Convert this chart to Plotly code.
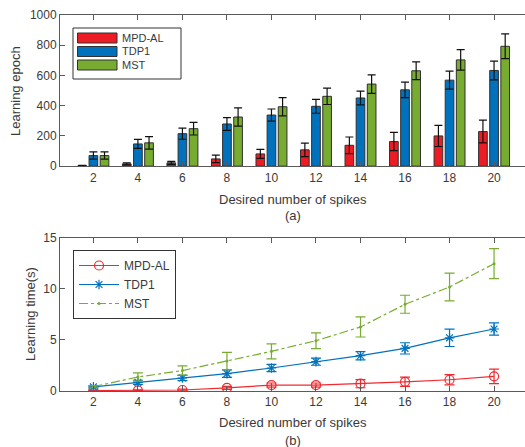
import plotly.graph_objects as go

# ---------------- data ----------------
spikes = [2, 4, 6, 8, 10, 12, 14, 16, 18, 20]
series_names = ["MPD-AL", "TDP1", "MST"]

epoch_mpd = [3, 15, 22, 48, 81, 108, 138, 163, 200, 229]
epoch_mpd_err = [3, 7, 10, 25, 30, 45, 55, 60, 70, 75]
epoch_tdp = [70, 147, 215, 279, 338, 396, 451, 505, 569, 633]
epoch_tdp_err = [24, 30, 37, 42, 40, 46, 46, 51, 60, 62]
epoch_mst = [70, 154, 248, 325, 393, 462, 543, 631, 703, 793]
epoch_mst_err = [24, 42, 42, 60, 60, 54, 61, 59, 68, 82]

time_mpd = [0.05, 0.07, 0.1, 0.3, 0.58, 0.58, 0.72, 0.9, 1.1, 1.43]
time_mpd_err = [0.05, 0.05, 0.08, 0.15, 0.2, 0.2, 0.4, 0.45, 0.5, 0.7]
time_tdp = [0.4, 0.85, 1.27, 1.7, 2.25, 2.87, 3.45, 4.17, 5.2, 6.06]
time_tdp_err = [0.1, 0.2, 0.25, 0.37, 0.35, 0.35, 0.4, 0.55, 0.85, 0.6]
time_mst = [0.42, 1.37, 2.0, 2.93, 3.88, 4.92, 6.26, 8.48, 10.17, 12.45]
time_mst_err = [0.1, 0.4, 0.45, 0.85, 0.73, 0.77, 0.98, 0.88, 1.35, 1.47]

x_ticks = [2, 4, 6, 8, 10, 12, 14, 16, 18, 20]
y1_ticks = [0, 200, 400, 600, 800, 1000]
y2_ticks = [0, 5, 10, 15]

# ---------------- style ----------------
RED = "#ED1C24"
RED_LINE = "#F2282E"
BLUE = "#0072BD"
GREEN = "#77AC30"
TXT = "#3a3a3a"
AX = "#5a5a5a"
FONT = "Liberation Sans, Arial, sans-serif"
BAR_COLORS = [RED, BLUE, GREEN]

fig = go.Figure()

bar_sets = [
    (epoch_mpd, epoch_mpd_err),
    (epoch_tdp, epoch_tdp_err),
    (epoch_mst, epoch_mst_err),
]
for name, (vals, errs), col in zip(series_names, bar_sets, BAR_COLORS):
    fig.add_trace(go.Bar(
        x=spikes, y=vals, name=name, marker=dict(color=col, line=dict(color="#303030", width=1)),
        error_y=dict(type="data", array=errs, visible=True, color="#111111", thickness=1.2, width=4),
        xaxis="x", yaxis="y", showlegend=False,
    ))

line_sets = [
    (time_mpd, time_mpd_err, RED_LINE, "solid", dict(symbol="circle-open", size=9, line=dict(width=1.2))),
    (time_tdp, time_tdp_err, BLUE, "solid", dict(symbol="asterisk-open", size=8, line=dict(width=1.2))),
    (time_mst, time_mst_err, GREEN, "dashdot", dict(symbol="circle", size=3)),
]
for name, (vals, errs, col, dash, mk) in zip(series_names, line_sets):
    mk = dict(mk)
    mk["color"] = col
    if "line" in mk:
        mk["line"]["color"] = col
    fig.add_trace(go.Scatter(
        x=spikes, y=vals, name=name, mode="lines+markers",
        line=dict(color=col, width=1.2, dash=dash), marker=mk,
        error_y=dict(type="data", array=errs, visible=True, color=col, thickness=1.2, width=5),
        xaxis="x2", yaxis="y2", legend="legend2",
    ))

XR = [0.5, 21.39]
axis_common = dict(
    showline=True, linecolor=AX, linewidth=1, ticks="inside", ticklen=5, tickcolor=AX,
    showgrid=False, zeroline=False, tickfont=dict(family=FONT, size=12, color=TXT),
)

TOP_DOM = [0.598, 1.0]
BOT_DOM = [0.0, 0.408]


def px(xp):
    return (xp - 60) / 465


def py(yp):
    return (391 - yp) / 376


fig.update_layout(
    width=525, height=447,
    margin=dict(l=60, r=0, t=15, b=56),
    paper_bgcolor="white", plot_bgcolor="white",
    barmode="group", bargap=0.25, bargroupgap=0.22,
    font=dict(family=FONT, size=12, color=TXT),
    xaxis=dict(domain=[0, 1], anchor="y", range=XR, tickvals=x_ticks, mirror="ticks", **axis_common),
    yaxis=dict(domain=TOP_DOM, anchor="x", range=[0, 1000], tickvals=y1_ticks, **axis_common),
    xaxis2=dict(domain=[0, 1], anchor="y2", range=XR, tickvals=x_ticks, mirror="ticks", **axis_common),
    yaxis2=dict(domain=BOT_DOM, anchor="x2", range=[0, 15], tickvals=y2_ticks, **axis_common),
    yaxis3=dict(overlaying="y", side="right", anchor="x", range=[0, 1000], tickvals=y1_ticks,
                showticklabels=False, ticks="inside", ticklen=5, tickcolor=AX, showline=False,
                showgrid=False, zeroline=False),
    yaxis4=dict(overlaying="y2", side="right", anchor="x2", range=[0, 15], tickvals=y2_ticks,
                showticklabels=False, ticks="inside", ticklen=5, tickcolor=AX, showline=False,
                showgrid=False, zeroline=False),
    legend2=dict(x=0.028, y=0.375, xanchor="left", yanchor="top", bgcolor="white",
                 bordercolor="#333333", borderwidth=1, font=dict(family=FONT, size=12, color=TXT),
                 tracegroupgap=0, itemwidth=40),
    showlegend=True,
)

# legend box for the bar chart (long swatches, as in the original)
fig.add_shape(type="rect", xref="paper", yref="paper", x0=px(73), x1=px(181), y0=py(79), y1=py(28),
              line=dict(color="#333333", width=1), fillcolor="white", layer="above")
sw_tops = [33, 46.5, 60]
for name, col, t in zip(series_names, BAR_COLORS, sw_tops):
    fig.add_shape(type="rect", xref="paper", yref="paper", x0=px(77.5), x1=px(117), y0=py(t + 10), y1=py(t),
                  line=dict(color="#303030", width=1), fillcolor=col, layer="above")
    fig.add_annotation(xref="paper", yref="paper", x=px(120), y=py(t + 5), text=name, showarrow=False,
                       xanchor="left", yanchor="middle", font=dict(family=FONT, size=11, color=TXT))

annos = [
    dict(text="Desired number of spikes", x=0.5, y=py(199)),
    dict(text="(a)", x=0.5, y=py(216)),
    dict(text="Desired number of spikes", x=0.5, y=py(423)),
    dict(text="(b)", x=0.5, y=py(440)),
    dict(text="Learning epoch", x=px(15), y=py(91), textangle=-90),
    dict(text="Learning time(s)", x=px(30), y=py(314), textangle=-90),
]
for a in annos:
    fig.add_annotation(xref="paper", yref="paper", showarrow=False, xanchor="center", yanchor="middle",
                       font=dict(family=FONT, size=13, color=TXT), **a)

fig.write_html("out.html")
